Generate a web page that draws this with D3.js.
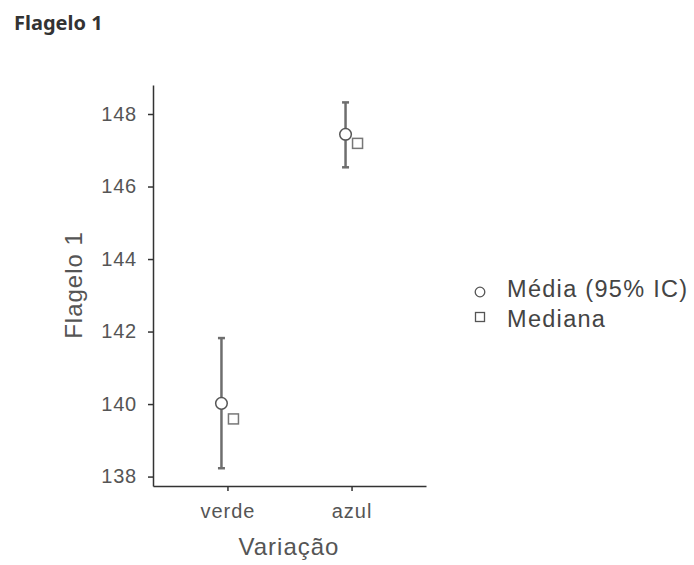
<!DOCTYPE html>
<html>
<head>
<meta charset="utf-8">
<script src="https://cdn.jsdelivr.net/npm/d3@7"></script>
<style>
  body { margin: 0; background: #fff; }
  svg text { font-family: "Liberation Sans", Arial, sans-serif; }
</style>
</head>
<body>
<svg id="chart" width="694" height="565"></svg>
<script>
// data
let groups = ["verde", "azul"];
let means = [140.02, 147.44];
let ciLow = [138.23, 146.53];
let ciHigh = [141.82, 148.32];
let medians = [139.59, 147.19];
let yTicks = [138, 140, 142, 144, 146, 148];
let legendLabels = ["Média (95% IC)", "Mediana"];

let dodge = 6;
let svg = d3.select("#chart");

// title
svg.append("text")
  .attr("x", 14)
  .attr("y", 30)
  .style("font-family", "'Noto Sans', sans-serif")
  .style("font-weight", "bold")
  .style("font-size", "20px")
  .attr("fill", "#333")
  .text("Flagelo 1");

let x = d3.scalePoint()
  .domain(groups)
  .range([153, 426])
  .padding(0.6);

let y = d3.scaleLinear()
  .domain([137.74, 148.8])
  .range([486, 85]);

// y axis
let yAxis = svg.append("g")
  .attr("transform", "translate(153,0)")
  .call(d3.axisLeft(y).tickValues(yTicks).tickSize(5).tickSizeOuter(0).tickPadding(11));
yAxis.select(".domain").attr("stroke", "#333").attr("stroke-width", 1.5);
yAxis.selectAll(".tick line").attr("stroke", "#333").attr("stroke-width", 1.5);
yAxis.selectAll(".tick text")
  .attr("fill", "#555")
  .style("font-size", "20px")
  .style("letter-spacing", "0.8px");

// x axis
let xAxis = svg.append("g")
  .attr("transform", "translate(0,486)")
  .call(d3.axisBottom(x).tickSize(5).tickSizeOuter(0).tickPadding(13));
xAxis.select(".domain").attr("stroke", "#333").attr("stroke-width", 1.5);
xAxis.selectAll(".tick line").attr("stroke", "#333").attr("stroke-width", 1.5);
xAxis.selectAll(".tick text")
  .attr("fill", "#555")
  .style("font-size", "20px")
  .style("letter-spacing", "1px");

// axis titles
svg.append("text")
  .attr("x", 289)
  .attr("y", 555)
  .attr("text-anchor", "middle")
  .attr("fill", "#555")
  .style("font-size", "24px")
  .style("letter-spacing", "1px")
  .text("Variação");

svg.append("text")
  .attr("transform", "translate(82,285) rotate(-90)")
  .attr("text-anchor", "middle")
  .attr("fill", "#555")
  .style("font-size", "24px")
  .style("letter-spacing", "1px")
  .text("Flagelo 1");

// error bars
let idx = d3.range(groups.length);
let bars = svg.append("g");
bars.selectAll(".ci")
  .data(idx)
  .enter()
  .append("line")
  .attr("class", "ci")
  .attr("x1", i => x(groups[i]) - dodge)
  .attr("x2", i => x(groups[i]) - dodge)
  .attr("y1", i => y(ciLow[i]))
  .attr("y2", i => y(ciHigh[i]))
  .attr("stroke", "#6e6e6e")
  .attr("stroke-width", 2.5);

let caps = [];
idx.forEach(i => { caps.push({i: i, v: ciLow[i]}); caps.push({i: i, v: ciHigh[i]}); });
bars.selectAll(".cap")
  .data(caps)
  .enter()
  .append("line")
  .attr("class", "cap")
  .attr("x1", c => x(groups[c.i]) - dodge - 3.5)
  .attr("x2", c => x(groups[c.i]) - dodge + 3.5)
  .attr("y1", c => y(c.v))
  .attr("y2", c => y(c.v))
  .attr("stroke", "#6e6e6e")
  .attr("stroke-width", 2.5);

// medians
svg.selectAll(".median")
  .data(idx)
  .enter()
  .append("rect")
  .attr("class", "median")
  .attr("x", i => x(groups[i]) + dodge - 5)
  .attr("y", i => y(medians[i]) - 5)
  .attr("width", 10)
  .attr("height", 10)
  .attr("fill", "#fff")
  .attr("stroke", "#777")
  .attr("stroke-width", 1.5);

// means
svg.selectAll(".mean")
  .data(idx)
  .enter()
  .append("circle")
  .attr("class", "mean")
  .attr("cx", i => x(groups[i]) - dodge)
  .attr("cy", i => y(means[i]))
  .attr("r", 5.8)
  .attr("fill", "#fff")
  .attr("stroke", "#555")
  .attr("stroke-width", 1.5);

// legend
let legend = svg.append("g").attr("transform", "translate(480,292)");
legend.append("circle")
  .attr("cx", 0).attr("cy", 0).attr("r", 4.8)
  .attr("fill", "#fff").attr("stroke", "#555").attr("stroke-width", 1.3);
legend.append("rect")
  .attr("x", -4.5).attr("y", 20.5).attr("width", 9).attr("height", 9)
  .attr("fill", "#fff").attr("stroke", "#555").attr("stroke-width", 1.3);
legend.selectAll(".leg-text")
  .data(legendLabels)
  .enter()
  .append("text")
  .attr("class", "leg-text")
  .attr("x", 27)
  .attr("y", (d, i) => 5 + i * 30)
  .attr("fill", "#444")
  .style("font-size", "23.5px")
  .style("letter-spacing", "1.3px")
  .text(d => d);
</script>
</body>
</html>
